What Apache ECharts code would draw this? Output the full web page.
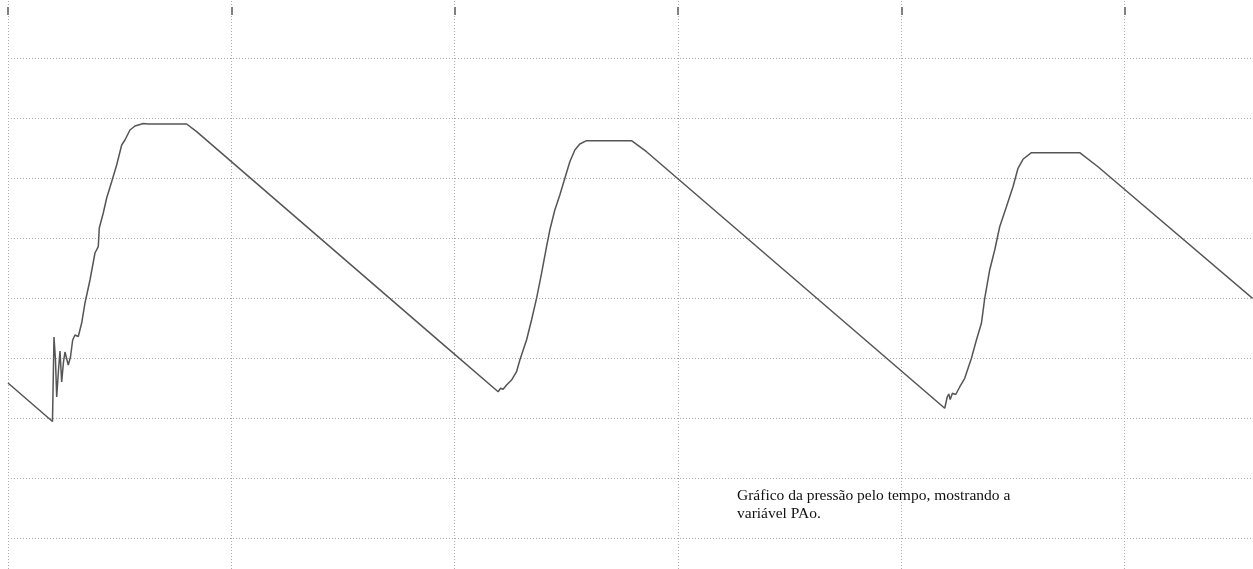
<!DOCTYPE html>
<html>
<head>
<meta charset="utf-8">
<script src="https://cdn.jsdelivr.net/npm/echarts@6/dist/echarts.min.js"></script>
<style>
html,body{margin:0;padding:0;background:#fff;}
#chart{width:1253px;height:569px;}
</style>
</head>
<body>
<div id="chart"></div>
<script>
// time (grid units) and pressure PAo (grid units)
const timeValues = [0, 0.1992, 0.2037, 0.2059, 0.2126, 0.2180, 0.2261, 0.2328, 0.2404, 0.2484, 0.2551, 0.2628, 0.2699, 0.2798, 0.2896, 0.2999, 0.3147, 0.3299, 0.3447, 0.3671, 0.3894, 0.4042, 0.4087, 0.4266, 0.4418, 0.4642, 0.4866, 0.5090, 0.5237, 0.5461, 0.5685, 0.5909, 0.6056, 0.6133, 0.6267, 0.7999, 0.8447, 1.9338, 2.1948, 2.2055, 2.2171, 2.2323, 2.2547, 2.2771, 2.2919, 2.3218, 2.3442, 2.3666, 2.3890, 2.4114, 2.4261, 2.4485, 2.4709, 2.4933, 2.5157, 2.5381, 2.5604, 2.5904, 2.7918, 2.8590, 4.1943, 4.2055, 4.2122, 4.2189, 4.2287, 4.2435, 4.2614, 4.2838, 4.3138, 4.3362, 4.3586, 4.3733, 4.3957, 4.4181, 4.4405, 4.4705, 4.5000, 4.5224, 4.5448, 4.5824, 4.7986, 4.8805, 5.5730];
const pressureValues = [3.583, 2.942, 3.883, 4.350, 3.967, 3.350, 3.800, 4.117, 3.600, 3.933, 4.100, 4.133, 3.883, 4.017, 4.300, 4.383, 4.358, 4.583, 4.917, 5.300, 5.750, 5.855, 6.167, 6.417, 6.667, 6.938, 7.217, 7.550, 7.633, 7.800, 7.867, 7.892, 7.908, 7.892, 7.900, 7.900, 7.772, 4.272, 3.438, 3.495, 3.478, 3.550, 3.633, 3.772, 3.967, 4.300, 4.633, 4.995, 5.412, 5.855, 6.133, 6.467, 6.717, 6.995, 7.272, 7.467, 7.567, 7.622, 7.622, 7.438, 3.162, 3.350, 3.400, 3.308, 3.412, 3.392, 3.517, 3.662, 3.995, 4.300, 4.578, 4.995, 5.467, 5.800, 6.188, 6.522, 6.855, 7.162, 7.312, 7.422, 7.422, 7.188, 4.992];
const captionLines = ["Gráfico da pressão pelo tempo, mostrando a", "variável PAo."];

const seriesData = timeValues.map((t, i) => [t, pressureValues[i]]);

const chart = echarts.init(document.getElementById('chart'), null, {renderer: 'canvas'});
const gridStyle = {show: true, lineStyle: {color: '#acacac', width: 1, type: [1, 2]}};
chart.setOption({
  animation: false,
  backgroundColor: '#ffffff',
  grid: {left: 8, right: -95, top: -2, bottom: -29, outerBoundsMode: 'none'},
  xAxis: [
    {type: 'value', min: 0, max: 6, interval: 1, axisLine: {show: false}, axisTick: {show: false}, axisLabel: {show: false}, splitLine: gridStyle},
    {type: 'value', position: 'top', offset: -9, min: 0, max: 6, interval: 1, axisLine: {show: false},
     axisTick: {show: true, inside: true, length: 8, lineStyle: {color: '#808080', width: 2}}, axisLabel: {show: false}, splitLine: {show: false}}
  ],
  yAxis: {type: 'value', min: 0, max: 10, interval: 1, axisLine: {show: false}, axisTick: {show: false}, axisLabel: {show: false}, splitLine: gridStyle},
  graphic: [{
    type: 'text', left: 737, top: 487,
    style: {text: captionLines.join('\n'), font: '15.5px "Liberation Serif"', fill: '#111111', lineHeight: 18}
  }],
  series: [{
    type: 'line', xAxisIndex: 0, data: seriesData, showSymbol: false, symbol: 'none',
    lineStyle: {color: '#555555', width: 1.5}, smooth: false
  }]
});
</script>
</body>
</html>
